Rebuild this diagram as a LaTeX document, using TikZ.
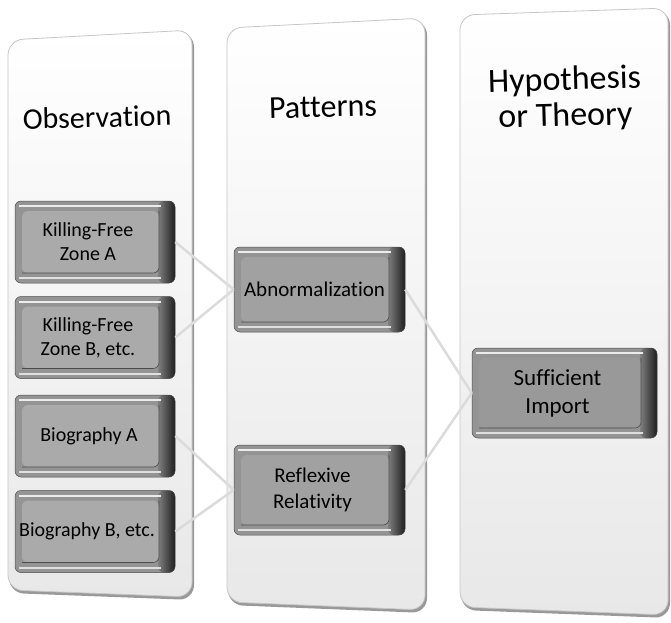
\documentclass[tikz,border=0pt]{standalone}
\usepackage{fontspec}
\setmainfont{Carlito}[Ligatures=NoCommon]
\begin{document}
\begin{tikzpicture}[x=1pt,y=-1pt,
  colm/.style={rounded corners=15pt, top color=white, bottom color=gray!18, draw=gray!45, line width=0.8pt},
  colshadow/.style={rounded corners=15pt, fill=gray!80},
  coltitle/.style={align=center, rotate=1.5, inner sep=0pt},
  btn/.style={rounded corners=6pt, draw=black!70, line width=0.5pt, fill=black!42,
    inner sep=0pt,
    path picture={
      \path (path picture bounding box.south west) coordinate (ppsw)
            (path picture bounding box.north east) coordinate (ppne);
      \shade[left color=black!50, right color=black!88] ([xshift=-17pt]ppne) rectangle (ppsw -| ppne);
      \fill[#1] ([xshift=7pt,yshift=10pt]ppsw) rectangle ([xshift=-16pt,yshift=-10pt]ppne);
      \draw[black!70, line width=0.6pt] ([xshift=7pt,yshift=10pt]ppsw) -- ([xshift=-16pt,yshift=10pt]ppsw -| ppne) -- ([xshift=-16pt,yshift=-10pt]ppne);
      \draw[white!85!gray, line width=2pt] ([xshift=4pt,yshift=-5pt]ppsw |- ppne) -- ([xshift=-14pt,yshift=-5pt]ppne);
      \draw[white!75!gray, line width=2pt] ([xshift=4pt,yshift=5pt]ppsw) -- ([xshift=-14pt,yshift=5pt]ppsw -| ppne);
    }},
  btn/.default={gray!67},
  btxt/.style={align=center, inner sep=0pt},
  conn/.style={draw=gray!28, line width=2.5pt}
]
\useasboundingbox (0,0) rectangle (671,622);

% column shadows
\path[colshadow] (9,42) -- (194,32) -- (194,600) -- (9,593) -- cycle;
\path[colshadow] (228,30) -- (427,20) -- (427,613) -- (228,605) -- cycle;
\path[colshadow] (461,17) -- (670,10) -- (670,618) -- (461,610) -- cycle;

% columns
\path[colm] (8,40) -- (192,30) -- (192,597) -- (8,590) -- cycle;
\path[colm] (227,28) -- (425,18) -- (425,610) -- (227,602) -- cycle;
\path[colm] (460,15) -- (668,8) -- (668,615) -- (460,607) -- cycle;

% titles
\node[coltitle, font=\fontsize{30}{36}\selectfont] (obs) at (97,117) {Observation};
\node[coltitle, font=\fontsize{32}{38}\selectfont] (pat) at (323,107) {Patterns};
\node[coltitle, font=\fontsize{34}{36}\selectfont] (hyp) at (565,99) {Hypothesis\\or Theory};

% observation boxes
\node[btn={gray!67}, minimum width=160pt, minimum height=82pt] (kfa) at (95,242) {};
\node[btn={gray!67}, minimum width=160pt, minimum height=82pt] (kfb) at (95,337.5) {};
\node[btn={gray!67}, minimum width=160pt, minimum height=82pt] (bioa) at (95,436) {};
\node[btn={gray!67}, minimum width=160pt, minimum height=82pt] (biob) at (95,531.5) {};
\node[btxt, font=\fontsize{20}{24}\selectfont] (kfat) at ([xshift=-7pt]kfa.center) {Killing-Free\\Zone A};
\node[btxt, font=\fontsize{20}{24}\selectfont] (kfbt) at ([xshift=-7pt]kfb.center) {Killing-Free\\Zone B, etc.};
\node[btxt, font=\fontsize{20}{24}\selectfont] (bioat) at ([xshift=-6pt]bioa.center) {Biography A};
\node[btxt, font=\fontsize{20}{24}\selectfont] (biobt) at ([xshift=-8pt]biob.center) {Biography B, etc.};

% pattern boxes
\node[btn={gray!74}, minimum width=171pt, minimum height=85pt] (abn) at (319.5,289.5) {};
\node[btn={gray!74}, minimum width=171pt, minimum height=90pt] (rr) at (319.5,490) {};
\node[btxt, font=\fontsize{21}{26}\selectfont] (abnt) at ([xshift=-5pt]abn.center) {Abnormalization};
\node[btxt, font=\fontsize{21}{26}\selectfont] (rrt) at ([xshift=-7pt]rr.center) {Reflexive\\Relativity};

% theory box
\node[btn={gray!80}, minimum width=185pt, minimum height=90pt] (si) at (564.5,393) {};
\node[btxt, font=\fontsize{23}{28}\selectfont] (sit) at ([xshift=-7pt]si.center) {Sufficient\\Import};

% connectors
\draw[conn] (kfa.east) -- (abn.west);
\draw[conn] (kfb.east) -- (abn.west);
\draw[conn] (bioa.east) -- (rr.west);
\draw[conn] (biob.east) -- (rr.west);
\draw[conn] (abn.east) -- (si.west);
\draw[conn] (rr.east) -- (si.west);
\end{tikzpicture}
\end{document}
